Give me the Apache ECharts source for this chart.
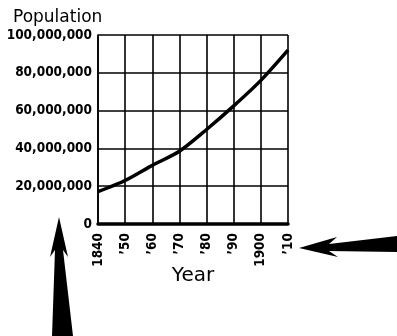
<!DOCTYPE html>
<html>
<head>
<meta charset="utf-8">
<script src="https://cdn.jsdelivr.net/npm/echarts@6/dist/echarts.min.js"></script>
<style>
  html, body { margin: 0; padding: 0; background: #fff; }
  #chart { width: 397px; height: 336px; }
</style>
</head>
<body>
<div id="chart"></div>
<script>
// data
var years = ['1840', '\u201950', '\u201960', '\u201970', '\u201980', '\u201990', '1900', '\u201910'];
var population = [17100000, 23000000, 31000000, 38500000, 50000000, 62500000, 76000000, 92000000];
var yTicks = [0, 20000000, 40000000, 60000000, 80000000, 100000000];

var labelFont = '"DejaVu Sans Condensed", "DejaVu Sans", sans-serif';

// 定义图表option
var option = {
  animation: false,
  backgroundColor: '#fff',
  grid: { left: 98, right: 109, top: 35, bottom: 112, containLabel: false, outerBoundsMode: 'none' },
  xAxis: {
    type: 'category',
    data: years,
    boundaryGap: false,
    axisLine: { show: true, lineStyle: { color: '#000', width: 3.5 } },
    axisTick: { show: false },
    axisLabel: {
      rotate: 90, margin: 9, color: '#000',
      fontFamily: labelFont, fontWeight: 'bold', fontSize: 13.5
    },
    splitLine: { show: true, lineStyle: { color: '#000', width: 1.6 } },
    name: 'Year',
    nameLocation: 'middle',
    nameGap: 42,
    nameMoveOverlap: false,
    nameTextStyle: { color: '#000', fontFamily: '"DejaVu Sans", sans-serif', fontSize: 20 }
  },
  yAxis: {
    type: 'value',
    min: 0,
    max: 100000000,
    interval: 20000000,
    axisLine: { show: true, lineStyle: { color: '#000', width: 1.6 } },
    axisTick: { show: false },
    axisLabel: {
      margin: 6, color: '#000',
      fontFamily: labelFont, fontWeight: 'bold', fontSize: 13.5,
      formatter: function (v) {
        return yTicks.indexOf(v) >= 0 ? v.toLocaleString('en-US') : '';
      }
    },
    splitLine: { show: true, lineStyle: { color: '#000', width: 1.6 } }
  },
  title: {
    text: 'Population',
    left: 8, top: 4,
    textStyle: { color: '#000', fontFamily: '"DejaVu Sans", sans-serif', fontWeight: 'normal', fontSize: 17 }
  },
  series: [{
    type: 'line',
    data: population,
    smooth: 0.25,
    showSymbol: false,
    lineStyle: { color: '#000', width: 3.5 }
  }],
  // 两个指示箭头
  graphic: [
    {
      type: 'polygon',
      shape: { points: [[59, 217], [68, 257], [63, 250], [73, 336], [52, 336], [55, 250], [50, 257]] },
      style: { fill: '#000' }
    },
    {
      type: 'polygon',
      shape: { points: [[299, 248], [337, 237], [329, 244], [397, 236], [397, 252], [329, 251], [338, 257]] },
      style: { fill: '#000' }
    }
  ]
};

var myChart = echarts.init(document.getElementById('chart'));
myChart.setOption(option);
</script>
</body>
</html>
